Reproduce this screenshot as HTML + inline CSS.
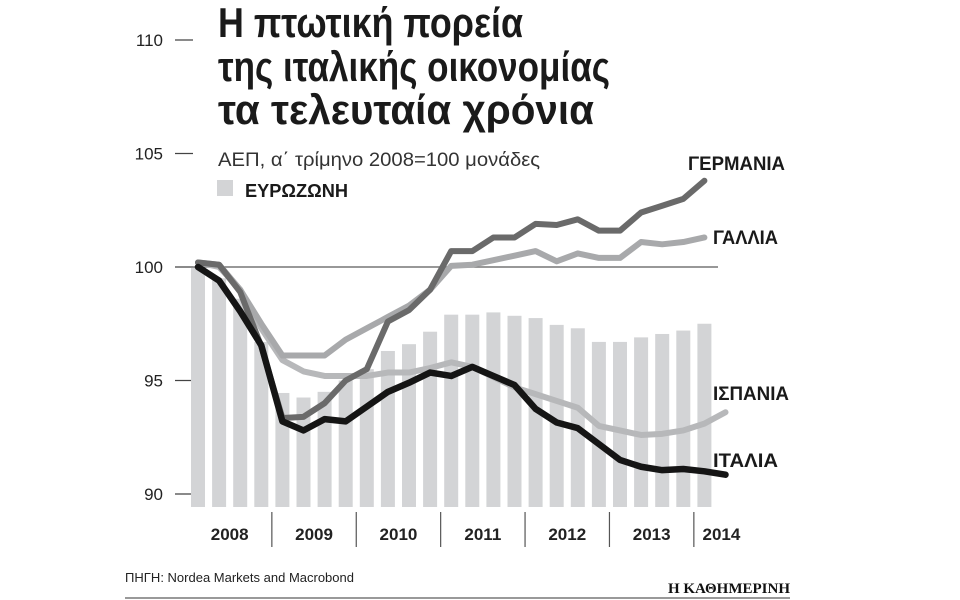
<!DOCTYPE html>
<html><head><meta charset="utf-8"><style>
body{margin:0;background:#fff;}
svg{display:block;font-family:"Liberation Sans Narrow","Liberation Sans","DejaVu Sans Condensed",sans-serif;}
</style></head><body>
<svg id="c" width="960" height="600" viewBox="0 0 960 600">
<text x="218" y="37" font-size="42" font-weight="bold" fill="#1a1a1a" textLength="305" lengthAdjust="spacingAndGlyphs">Η πτωτική πορεία</text>
<text x="218" y="81" font-size="42" font-weight="bold" fill="#1a1a1a" textLength="392" lengthAdjust="spacingAndGlyphs">της ιταλικής οικονομίας</text>
<text x="218" y="124" font-size="42" font-weight="bold" fill="#1a1a1a" textLength="376" lengthAdjust="spacingAndGlyphs">τα τελευταία χρόνια</text>
<text x="218" y="166" font-size="19" fill="#333" textLength="322" lengthAdjust="spacingAndGlyphs">ΑΕΠ, α΄ τρίμηνο 2008=100 μονάδες</text>
<rect x="217" y="180" width="16" height="16" fill="#d3d4d6"/>
<text x="245" y="197" font-size="18" font-weight="bold" fill="#1a1a1a" textLength="103" lengthAdjust="spacingAndGlyphs">ΕΥΡΩΖΩΝΗ</text>
<g id="plot"></g>
<text x="125" y="582" font-size="13" fill="#222">ΠΗΓΗ: Nordea Markets and Macrobond</text>
<line x1="125" y1="598" x2="790" y2="598" stroke="#999" stroke-width="2"/>
<text x="790" y="593" font-size="15" font-weight="bold" text-anchor="end" fill="#111" font-family="Liberation Serif,serif">Η ΚΑΘΗΜΕΡΙΝΗ</text>
</svg>
<script>
const eurozone=[100,99.5,98.6,96.7,94.45,94.25,94.5,95.0,95.5,96.3,96.6,97.15,97.9,97.9,98.0,97.85,97.75,97.45,97.3,96.7,96.7,96.9,97.05,97.2,97.5];
const germany=[100.2,100.1,98.9,96.5,93.35,93.4,94.0,95.0,95.5,97.6,98.1,99.0,100.7,100.7,101.3,101.3,101.9,101.85,102.1,101.6,101.6,102.4,102.7,103.0,103.8];
const france=[100.2,100.1,99.0,97.5,96.1,96.1,96.1,96.8,97.3,97.8,98.3,99.0,100.05,100.1,100.3,100.5,100.7,100.25,100.6,100.4,100.4,101.1,101.0,101.1,101.3];
const spain=[100.2,100.0,99.0,97.3,95.9,95.4,95.2,95.2,95.2,95.35,95.35,95.55,95.8,95.6,95.15,94.7,94.4,94.1,93.8,93.0,92.8,92.6,92.65,92.8,93.1,93.6];
const italy=[100.0,99.4,98.05,96.55,93.2,92.8,93.3,93.2,93.85,94.5,94.9,95.35,95.2,95.6,95.2,94.8,93.75,93.15,92.9,92.2,91.5,91.2,91.05,91.1,91.0,90.85];
const years=["2008","2009","2010","2011","2012","2013","2014"];
const yTicks=[90,95,100,105,110];
const NS="http://www.w3.org/2000/svg";
const g=document.getElementById('plot');
const STEP=21.1;
const X=i=>198+i*STEP;
const Y=v=>267-(v-100)*22.7;
const BASE=507;
function mk(t,a,p){const e=document.createElementNS(NS,t);for(const k in a)e.setAttribute(k,a[k]);(p||g).appendChild(e);return e;}
yTicks.forEach(v=>{
  const t=mk('text',{x:163,y:Y(v)+6,'font-size':17,'text-anchor':'end',fill:'#222'});t.textContent=v;
  
  
  const l=mk('line',{x1:175,x2:193,y1:Y(v),y2:Y(v),stroke:'#444','stroke-width':1.3});
  
  
});
eurozone.forEach((v,i)=>{
  const r=mk('rect',{x:X(i)-7,y:Y(v),width:14,height:BASE-Y(v),fill:'#d3d4d6'});
  
  
});
const ref=mk('line',{x1:190,x2:718,y1:Y(100),y2:Y(100),stroke:'#777','stroke-width':1.5});


function line(arr,col,w,name){
  const p=mk('polyline',{points:arr.map((v,i)=>X(i)+','+Y(v)).join(' '),fill:'none',stroke:col,'stroke-width':w,'stroke-linejoin':'round','stroke-linecap':'round'});
  
  
}
line(spain,'#b7b8ba',6,'line-spain');
line(france,'#a8a9ab',6,'line-france');
line(germany,'#6a6a6a',6,'line-germany');
line(italy,'#151515',6.5,'line-italy');
const labels=[["ΓΕΡΜΑΝΙΑ",688,170,97],["ΓΑΛΛΙΑ",713,244,65],["ΙΣΠΑΝΙΑ",713,400,76],["ΙΤΑΛΙΑ",713,467,65]];
labels.forEach(a=>{
  const t=mk('text',{x:a[1],y:a[2],'font-size':19,'font-weight':'bold',fill:'#1a1a1a',textLength:a[3],lengthAdjust:'spacingAndGlyphs'});t.textContent=a[0];
  
  
});
years.forEach((y,k)=>{
  const start=k*4;
  const cx=(k===6)?X(start)+17:(X(start)+X(start+3))/2;
  const t=mk('text',{x:cx,y:540,'font-size':17,'font-weight':'bold','text-anchor':'middle',fill:'#222'});t.textContent=y;
  
  
  if(k>0){const sx=X(start)-STEP/2;
    const l=mk('line',{x1:sx,x2:sx,y1:512,y2:547,stroke:'#555','stroke-width':1.2});
    
    }
});
</script>
</body></html>
